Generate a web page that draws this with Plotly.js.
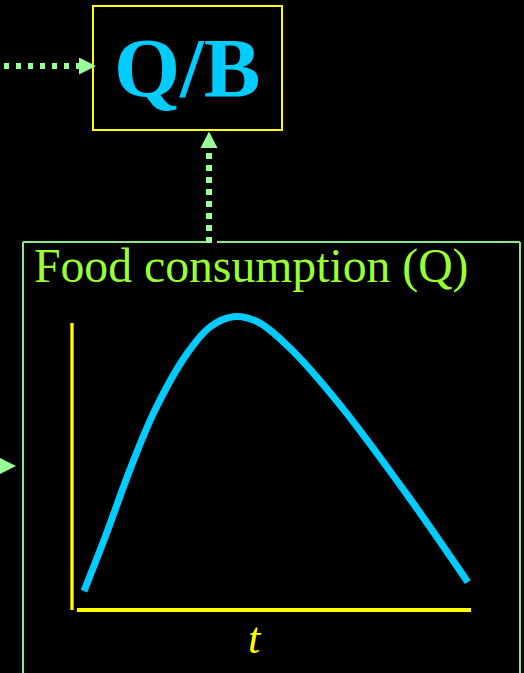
<!DOCTYPE html>
<html>
<head>
<meta charset="utf-8">
<script src="https://cdn.plot.ly/plotly-3.0.1.min.js"></script>
<style>html,body{margin:0;padding:0;background:#000;}#chart{width:524px;height:673px;}</style>
</head>
<body>
<div id="chart"></div>
<script>
// Data (time t, food consumption Q, arbitrary units 0-10)
const timeT = [0.30, 0.85, 1.45, 2.08, 2.86, 3.46, 4.04, 4.66, 5.46, 6.72, 8.37, 9.92];
const consumptionQ = [0.61, 2.42, 4.52, 6.45, 8.23, 9.13, 9.46, 9.29, 8.45, 6.61, 3.77, 0.90];
const panelTitle = "Food consumption (Q)";
const ratioLabel = "Q/B";
const xLabel = "t";

const W = 524, H = 673;
const px = v => v / W;          // page pixel -> paper x
const py = v => 1 - v / H;      // page pixel -> paper y

const cyan = "#00CCFF", yellow = "#FFFF00", green = "#99FF99", boxGreen = "#88E888", titleGreen = "#99FF33";

const trace = {
  x: timeT, y: consumptionQ, type: "scatter", mode: "lines",
  line: {color: cyan, width: 7, shape: "spline", smoothing: 1},
  hoverinfo: "skip"
};

function seg(x0, y0, x1, y1, color, width, dash) {
  return {type: "line", xref: "paper", yref: "paper",
    x0: px(x0), y0: py(y0), x1: px(x1), y1: py(y1),
    line: {color: color, width: width, dash: dash || "solid"}};
}
function tri(pts, color) {
  const d = "M " + pts.map(p => px(p[0]) + "," + py(p[1])).join(" L ") + " Z";
  return {type: "path", xref: "paper", yref: "paper", path: d,
    fillcolor: color, line: {color: color, width: 0}};
}

const shapes = [
  // Q/B box
  {type: "rect", xref: "paper", yref: "paper", x0: px(93), x1: px(282), y0: py(130), y1: py(6),
   line: {color: yellow, width: 2}, fillcolor: "rgba(0,0,0,0)"},
  // left dotted arrow into Q/B
  seg(4, 66, 80, 66, green, 6, "5px,7px"),
  tri([[79, 57.5], [96, 66], [79, 74.5]], green),
  // vertical dotted arrow up to Q/B
  seg(209, 243, 209, 150, green, 6, "6px,6px"),
  tri([[200.5, 148], [209, 131.5], [217.5, 148]], green),
  // green panel box
  seg(23, 242, 206, 242, boxGreen, 2),
  seg(217, 242, 520, 242, boxGreen, 2),
  seg(23, 242, 23, 680, boxGreen, 2),
  seg(520, 242, 520, 680, boxGreen, 2),
  // arrowhead entering from the left
  tri([[-1, 457.5], [16, 466], [-1, 474.5]], green),
  // axes
  seg(72, 323, 72, 610, yellow, 3.3),
  seg(77, 610, 471, 610, yellow, 4)
];

const annotations = [
  {text: ratioLabel, xref: "paper", yref: "paper", x: px(187), y: py(68), xanchor: "center", yanchor: "middle",
   showarrow: false, font: {family: "Liberation Serif", size: 85, color: cyan, weight: "bold"}},
  {text: panelTitle, xref: "paper", yref: "paper", x: px(32), y: py(266), xanchor: "left", yanchor: "middle",
   showarrow: false, font: {family: "Liberation Serif", size: 47.7, color: titleGreen}},
  {text: "<i>" + xLabel + "</i>", xref: "paper", yref: "paper", x: px(255), y: py(638), xanchor: "center", yanchor: "middle",
   showarrow: false, font: {family: "Liberation Serif", size: 44, color: yellow}}
];

const layout = {
  width: W, height: H,
  margin: {l: 0, r: 0, t: 0, b: 0},
  paper_bgcolor: "#000", plot_bgcolor: "#000",
  showlegend: false,
  xaxis: {domain: [72 / W, 471 / W], range: [0, 10], visible: false, fixedrange: true},
  yaxis: {domain: [1 - 610 / H, 1 - 300 / H], range: [0, 10], visible: false, fixedrange: true},
  shapes: shapes,
  annotations: annotations
};

Plotly.newPlot("chart", [trace], layout, {displayModeBar: false, staticPlot: true});
</script>
</body>
</html>
